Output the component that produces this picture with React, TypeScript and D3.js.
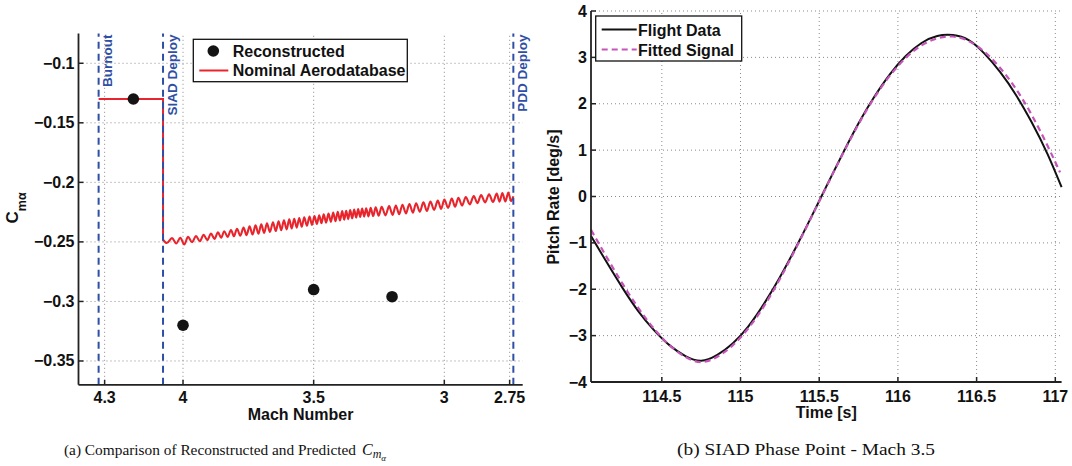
import React from "react";
import * as d3 from "d3";

const W = 1072;
const H = 466;

// ---------- Left panel data ----------
const machTicks = [4.3, 4, 3.5, 3, 2.75];
const machTickLabels = ["4.3", "4", "3.5", "3", "2.75"];
const cmaTicks = [-0.35, -0.3, -0.25, -0.2, -0.15, -0.1];
const cmaTickLabels = ["\u22120.35", "\u22120.3", "\u22120.25", "\u22120.2", "\u22120.15", "\u22120.1"];
const eventNames = ["Burnout", "SIAD Deploy", "PDD Deploy"];
const eventMach = [4.323, 4.0765, 2.7358];
const reconstructedMach = [4.19, 4.0, 3.5, 3.2];
const reconstructedCma = [-0.13, -0.32, -0.29, -0.296];
// step part of the nominal aerodatabase (burnout -> SIAD deploy)
const nominalStepMach = [4.323, 4.0765, 4.0765];
const nominalStepCma = [-0.13, -0.13, -0.248];
// oscillating part after SIAD deploy
const nominalMach = [
  4.0765, 4.062, 4.0421, 4.026, 4.0103, 3.9954, 3.9809, 3.9656, 3.9503, 3.9358,
  3.9212, 3.9071, 3.8929, 3.8795, 3.8662, 3.8539, 3.8421, 3.8291, 3.8164, 3.805, 3.7935, 3.7809,
  3.7683, 3.7568, 3.7453, 3.7338, 3.7224, 3.7113, 3.7006, 3.6895, 3.6788, 3.6673, 3.6558, 3.6451,
  3.6344, 3.6241, 3.6138, 3.6034, 3.5935, 3.5839, 3.5744, 3.5648, 3.5553, 3.5457, 3.5361, 3.5258,
  3.5159, 3.5063, 3.4968, 3.4876, 3.4788, 3.47, 3.4616, 3.4524, 3.4432, 3.4341, 3.4253, 3.4165,
  3.408, 3.3993, 3.3908, 3.3832, 3.3755, 3.3679, 3.3602, 3.3526, 3.3449, 3.3373, 3.3297, 3.322,
  3.3144, 3.3067, 3.2991, 3.2903, 3.2819, 3.2723, 3.2627, 3.2513, 3.2398, 3.2253, 3.2111, 3.1981,
  3.1855, 3.1729, 3.1602, 3.1469, 3.1335, 3.1205, 3.1079, 3.0937, 3.0799, 3.0666, 3.0532, 3.039,
  3.0249, 3.0123, 2.9997, 2.9855, 2.9713, 2.9587, 2.9461, 2.9319, 2.9178, 2.9025, 2.8872, 2.8734,
  2.8593, 2.844, 2.8287, 2.8138, 2.7993, 2.7886, 2.7779, 2.7664, 2.7549, 2.7446, 2.7358,
];
const nominalCma = [
  -0.248, -0.2509, -0.2468, -0.2513, -0.2466, -0.2522, -0.2458, -0.2503, -0.245, -0.2495,
  -0.244, -0.2485, -0.243, -0.2475, -0.242, -0.2465, -0.241, -0.2458, -0.24, -0.2453, -0.239, -0.2448,
  -0.238, -0.2443, -0.237, -0.2438, -0.2361, -0.2432, -0.2353, -0.2425, -0.2344, -0.2417, -0.2335, -0.2409,
  -0.2327, -0.2402, -0.2319, -0.2395, -0.2311, -0.2388, -0.2305, -0.238, -0.23, -0.2373, -0.2294, -0.2365,
  -0.2287, -0.2357, -0.2282, -0.235, -0.2276, -0.2343, -0.2269, -0.2338, -0.2261, -0.2332, -0.2253, -0.2327,
  -0.2247, -0.232, -0.2242, -0.2314, -0.2238, -0.2309, -0.2233, -0.2302, -0.2229, -0.2296, -0.2224, -0.229,
  -0.222, -0.2288, -0.2217, -0.2286, -0.2214, -0.2283, -0.221, -0.228, -0.2205, -0.2277, -0.22, -0.2273,
  -0.2194, -0.2268, -0.2188, -0.2261, -0.2182, -0.2254, -0.2175, -0.2247, -0.2168, -0.224, -0.2161, -0.2231,
  -0.2153, -0.2223, -0.2145, -0.2214, -0.2136, -0.2205, -0.213, -0.2195, -0.2123, -0.2185, -0.2114, -0.2174,
  -0.2107, -0.2168, -0.2101, -0.2165, -0.2095, -0.2162, -0.209, -0.216, -0.2086, -0.2158, -0.2117,
];

// ---------- Right panel data ----------
const timeTicks = [114.5, 115, 115.5, 116, 116.5, 117];
const timeTickLabels = ["114.5", "115", "115.5", "116", "116.5", "117"];
const rateTicks = [-4, -3, -2, -1, 0, 1, 2, 3, 4];
const rateTickLabels = ["\u22124", "\u22123", "\u22122", "\u22121", "0", "1", "2", "3", "4"];
const flightTime = [
  114.05, 114.15, 114.25, 114.35, 114.45, 114.55, 114.65, 114.75, 114.85, 114.95, 115.05, 115.15,
  115.25, 115.35, 115.45, 115.55, 115.65, 115.75, 115.85, 115.95, 116.05, 116.15, 116.25, 116.35,
  116.45, 116.55, 116.65, 116.75, 116.85, 116.95, 117.04,
];
const flightRate = [
  -0.85, -1.42, -1.97, -2.47, -2.88, -3.21, -3.44, -3.54, -3.42, -3.17, -2.8, -2.31,
  -1.74, -1.11, -0.44, 0.25, 0.93, 1.58, 2.15, 2.64, 3.03, 3.31, 3.46, 3.48,
  3.37, 3.08, 2.68, 2.19, 1.6, 0.92, 0.2,
];
const fittedTime = [
  114.05, 114.15, 114.25, 114.35, 114.45, 114.55, 114.65, 114.75, 114.85, 114.95, 115.05, 115.15,
  115.25, 115.35, 115.45, 115.55, 115.65, 115.75, 115.85, 115.95, 116.05, 116.15, 116.25, 116.35,
  116.45, 116.55, 116.65, 116.75, 116.85, 116.95, 117.03,
];
const fittedRate = [
  -0.72, -1.31, -1.88, -2.4, -2.85, -3.21, -3.46, -3.57, -3.46, -3.21, -2.84, -2.36,
  -1.78, -1.13, -0.45, 0.24, 0.92, 1.56, 2.13, 2.61, 2.99, 3.26, 3.41, 3.45,
  3.35, 3.12, 2.77, 2.32, 1.76, 1.1, 0.52,
];

const SANS = "'Liberation Sans', Arial, Helvetica, sans-serif";
const SERIF = "'Liberation Serif', 'Times New Roman', serif";
const AXIS = "#222";
const GRID = "#8a8a8a";
const BLUE = "#2f4fa5";
const RED = "#e8242c";
const PINK = "#c555b8";

export default function App() {
  const xL = d3.scaleLinear().domain([4.4, 2.7]).range([78.5, 522.7]);
  const yL = d3.scaleLinear().domain([-0.37, -0.075]).range([384.8, 33.5]);
  const [lx0, lx1] = xL.range();
  const [ly0, ly1] = yL.range();

  const xR = d3.scaleLinear().domain([114.05, 117.04]).range([591, 1061.6]);
  const yR = d3.scaleLinear().domain([-4, 4]).range([382, 11]);
  const [rx0, rx1] = xR.range();
  const [ry0, ry1] = yR.range();

  const stepPath = d3
    .line<[number, number]>()
    .x((d) => xL(d[0]))
    .y((d) => yL(d[1]))(nominalStepMach.map((m, i) => [m, nominalStepCma[i]] as [number, number])) as string;
  const nominalPath = d3
    .line<[number, number]>()
    .x((d) => xL(d[0]))
    .y((d) => yL(d[1]))
    .curve(d3.curveMonotoneX)(nominalMach.map((m, i) => [m, nominalCma[i]] as [number, number])) as string;

  const lineR = d3
    .line<[number, number]>()
    .x((d) => xR(d[0]))
    .y((d) => yR(d[1]))
    .curve(d3.curveNatural);
  const flightPath = lineR(flightTime.map((t, i) => [t, flightRate[i]] as [number, number])) as string;
  const fittedPath = lineR(fittedTime.map((t, i) => [t, fittedRate[i]] as [number, number])) as string;

  const tickFont = { fontFamily: SANS, fontWeight: "bold", fontSize: 16, fill: "#111" } as const;
  const labelFont = { fontFamily: SANS, fontWeight: "bold", fontSize: 16, fill: "#111" } as const;

  return (
    <div style={{ position: "fixed", left: 0, top: 0, width: W, height: H, background: "#fff" }}>
      <svg width={W} height={H} viewBox={`0 0 ${W} ${H}`} style={{ display: "block" }}>
        <rect x={0} y={0} width={W} height={H} fill="#fff" />

        {/* ================= LEFT PANEL ================= */}
        <g>
          {machTicks.map((m, i) => (
            <line key={"lgx" + i} x1={xL(m)} x2={xL(m)} y1={ly0} y2={ly1} stroke={GRID} strokeWidth={1} strokeDasharray="1,3" />
          ))}
          {cmaTicks.map((v, i) => (
            <line key={"lgy" + i} x1={lx0} x2={lx1} y1={yL(v)} y2={yL(v)} stroke={GRID} strokeWidth={1} strokeDasharray="1,3" />
          ))}

          <path d={stepPath} fill="none" stroke={RED} strokeWidth={2} />
          <path d={nominalPath} fill="none" stroke={RED} strokeWidth={2.1} strokeLinejoin="round" />

          {eventMach.map((m, i) => (
            <g key={"ev" + i}>
              <line x1={xL(m)} x2={xL(m)} y1={ly0} y2={ly1} stroke={BLUE} strokeWidth={2} strokeDasharray="7,5" />
              <text
                x={xL(m) + 13.5}
                y={ly1 + 1}
                transform={`rotate(-90, ${xL(m) + 13.5}, ${ly1 + 1})`}
                textAnchor="end"
                fontFamily={SANS}
                fontWeight="bold"
                fontSize={13.5}
                fill={BLUE}
              >
                {eventNames[i]}
              </text>
            </g>
          ))}

          {reconstructedMach.map((m, i) => (
            <circle key={"rc" + i} cx={xL(m)} cy={yL(reconstructedCma[i])} r={5.8} fill="#141414" />
          ))}

          <line x1={lx0} x2={lx0} y1={ly1} y2={ly0} stroke={AXIS} strokeWidth={1.8} />
          <line x1={lx0} x2={lx1} y1={ly0} y2={ly0} stroke={AXIS} strokeWidth={1.8} />
          {machTicks.map((m, i) => (
            <g key={"ltx" + i}>
              <line x1={xL(m)} x2={xL(m)} y1={ly0} y2={ly0 - 5} stroke={AXIS} strokeWidth={1.5} />
              <text x={xL(m)} y={ly0 + 18.5} textAnchor="middle" {...tickFont}>
                {machTickLabels[i]}
              </text>
            </g>
          ))}
          {cmaTicks.map((v, i) => (
            <g key={"lty" + i}>
              <line x1={lx0} x2={lx0 + 5} y1={yL(v)} y2={yL(v)} stroke={AXIS} strokeWidth={1.5} />
              <text x={lx0 - 4} y={yL(v) + 5.5} textAnchor="end" {...tickFont}>
                {cmaTickLabels[i]}
              </text>
            </g>
          ))}

          <text x={(lx0 + lx1) / 2} y={420} textAnchor="middle" {...labelFont}>
            Mach Number
          </text>
          <text transform="translate(17.5, 223.5) rotate(-90)" {...labelFont} fontSize={17}>
            C
            <tspan fontSize={12.5} dy={8}>
              m{"\u03b1"}
            </tspan>
          </text>

          <rect x={193.3} y={39.3} width={214} height={42.4} fill="#fff" stroke="#111" strokeWidth={1.3} />
          <circle cx={213.3} cy={51} r={5.8} fill="#141414" />
          <text x={232.7} y={56.8} {...labelFont}>
            Reconstructed
          </text>
          <line x1={199.3} x2={228.3} y1={70.5} y2={70.5} stroke={RED} strokeWidth={2} />
          <text x={232.7} y={76.2} {...labelFont}>
            Nominal Aerodatabase
          </text>
        </g>

        {/* ================= RIGHT PANEL ================= */}
        <g>
          {timeTicks.map((t, i) => (
            <line key={"rgx" + i} x1={xR(t)} x2={xR(t)} y1={ry0} y2={ry1} stroke={GRID} strokeWidth={1} strokeDasharray="1,3" />
          ))}
          {rateTicks.map((v, i) => (
            <line key={"rgy" + i} x1={rx0} x2={rx1} y1={yR(v)} y2={yR(v)} stroke={GRID} strokeWidth={1} strokeDasharray="1,3" />
          ))}

          <path d={flightPath} fill="none" stroke="#111" strokeWidth={2} />
          <path d={fittedPath} fill="none" stroke={PINK} strokeWidth={2.2} strokeDasharray="6,4" />

          <line x1={rx0} x2={rx0} y1={ry1} y2={ry0} stroke={AXIS} strokeWidth={1.8} />
          <line x1={rx0} x2={rx1} y1={ry0} y2={ry0} stroke={AXIS} strokeWidth={1.8} />
          {timeTicks.map((t, i) => (
            <g key={"rtx" + i}>
              <line x1={xR(t)} x2={xR(t)} y1={ry0} y2={ry0 - 5} stroke={AXIS} strokeWidth={1.5} />
              <text x={xR(t)} y={ry0 + 19.5} textAnchor="middle" {...tickFont}>
                {timeTickLabels[i]}
              </text>
            </g>
          ))}
          {rateTicks.map((v, i) => (
            <g key={"rty" + i}>
              <line x1={rx0} x2={rx0 + 5} y1={yR(v)} y2={yR(v)} stroke={AXIS} strokeWidth={1.5} />
              <text x={rx0 - 4} y={yR(v) + 5.5} textAnchor="end" {...tickFont}>
                {rateTickLabels[i]}
              </text>
            </g>
          ))}

          <text x={(rx0 + rx1) / 2} y={417.5} textAnchor="middle" {...labelFont}>
            Time [s]
          </text>
          <text transform="translate(559, 197) rotate(-90)" textAnchor="middle" {...labelFont}>
            Pitch Rate [deg/s]
          </text>

          <rect x={595.7} y={16} width={146} height={45} fill="#fff" stroke="#111" strokeWidth={1.3} />
          <line x1={601.7} x2={636.7} y1={29.5} y2={29.5} stroke="#111" strokeWidth={2} />
          <text x={638} y={35.5} {...labelFont}>
            Flight Data
          </text>
          <line x1={601.7} x2={636.7} y1={49.5} y2={49.5} stroke={PINK} strokeWidth={2.2} strokeDasharray="6,4" />
          <text x={638} y={55.5} {...labelFont}>
            Fitted Signal
          </text>
        </g>

        {/* ================= CAPTIONS ================= */}
        <text x={64} y={455} fontFamily={SERIF} fontSize={15} fill="#111" textLength={292} lengthAdjust="spacingAndGlyphs">
          (a) Comparison of Reconstructed and Predicted
        </text>
        <text x={362} y={455} fontFamily={SERIF} fontSize={16} fontStyle="italic" fill="#111">
          C
          <tspan fontSize={12} dy={3}>m</tspan>
          <tspan fontSize={9} dy={2.5}>{"\u03b1"}</tspan>
        </text>
        <text x={677} y={455} fontFamily={SERIF} fontSize={16} fill="#111" textLength={258} lengthAdjust="spacingAndGlyphs">
          (b)  SIAD Phase Point - Mach 3.5
        </text>
      </svg>
    </div>
  );
}
